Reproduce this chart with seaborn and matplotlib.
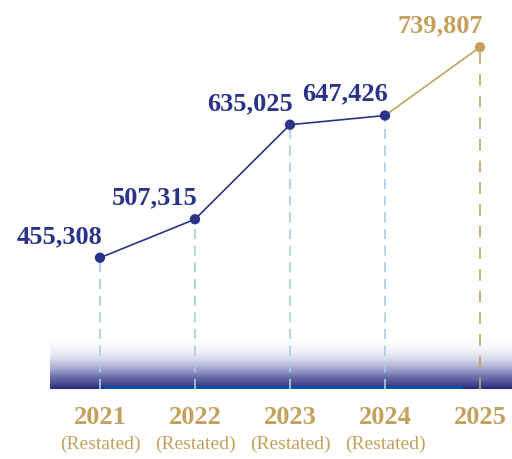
import numpy as np
import matplotlib
matplotlib.use("Agg")
import matplotlib.pyplot as plt
import matplotlib.transforms as mtransforms
from matplotlib.colors import LinearSegmentedColormap
import seaborn as sns
import pandas as pd

years = ["2021", "2022", "2023", "2024", "2025"]
subtitles = ["(Restated)", "(Restated)", "(Restated)", "(Restated)", ""]
values = [455308, 507315, 635025, 647426, 739807]
labels = ["455,308", "507,315", "635,025", "647,426", "739,807"]

NAVY = "#2b3388"
GOLD = "#c3a15c"
LIGHT_BLUE = "#a9cbe3"

sns.set_theme(style="white")
plt.rcParams["font.family"] = ["Liberation Serif", "DejaVu Serif"]

df = pd.DataFrame({"year": years, "value": values})
df["pos"] = np.arange(len(df))

fig = plt.figure(figsize=(5.12, 4.59), dpi=100)
ax = fig.add_axes([50 / 512, 1 - 389 / 459, 462 / 512, 389 / 459])

x_lo, x_hi = -0.526, 4.337
y_lo, y_hi = 278000, 803500
ax.set_xlim(x_lo, x_hi)
ax.set_ylim(y_lo, y_hi)

# soft gradient band along the bottom of the plot (dark at the base)
band_top = y_lo + (y_hi - y_lo) * (55 / 389)
grad = (np.linspace(1, 0, 256) ** 2.5)[:, None]
cmap = LinearSegmentedColormap.from_list("band", ["#ffffff", "#7476b2", "#262878"])
ax.imshow(grad, aspect="auto", cmap=cmap, origin="lower", vmin=0, vmax=1,
          extent=[x_lo, x_hi, y_lo, band_top], zorder=0)
ax.plot([0.03, 3.81], [y_lo + 2200, y_lo + 2200], color="#0a52a8", lw=2.2,
        solid_capstyle="butt", zorder=1)

# vertical drop lines
for i, v in enumerate(values):
    c = GOLD if i == len(values) - 1 else LIGHT_BLUE
    dash = (7, 6) if i == len(values) - 1 else (6, 4)
    ax.plot([i, i], [y_lo, v], color=c, lw=1.2, dashes=dash, zorder=2)

# connecting lines
sns.lineplot(data=df.iloc[:4], x="pos", y="value", ax=ax, color=NAVY, lw=1.2,
             zorder=3, legend=False)
sns.lineplot(data=df.iloc[3:], x="pos", y="value", ax=ax, color=GOLD, lw=1.2,
             zorder=3, legend=False)
colors = [NAVY] * 4 + [GOLD]
sns.scatterplot(data=df, x="pos", y="value", ax=ax, hue="year",
                palette=dict(zip(years, colors)), s=55, edgecolor="none",
                zorder=4, legend=False)

for i, (v, lab) in enumerate(zip(values, labels)):
    ax.annotate(lab, (i, v), xytext=(2, 7), textcoords="offset points",
                ha="right", va="bottom", fontsize=19, fontweight="bold",
                color=colors[i])

ax.set_xticks(range(len(years)))
ax.set_xticklabels(years, fontsize=19, fontweight="bold", color=GOLD)
ax.tick_params(axis="x", length=0, pad=12)
ax.set_yticks([])
ax.set_xlabel("")
ax.set_ylabel("")
for s in ax.spines.values():
    s.set_visible(False)

trans = mtransforms.blended_transform_factory(ax.transData, fig.transFigure)
for i, sub in enumerate(subtitles):
    if sub:
        ax.text(i, 1 - 444 / 459, sub, transform=trans, ha="center", va="center",
                fontsize=14, color=GOLD)

fig.savefig("out.png", dpi=100)
